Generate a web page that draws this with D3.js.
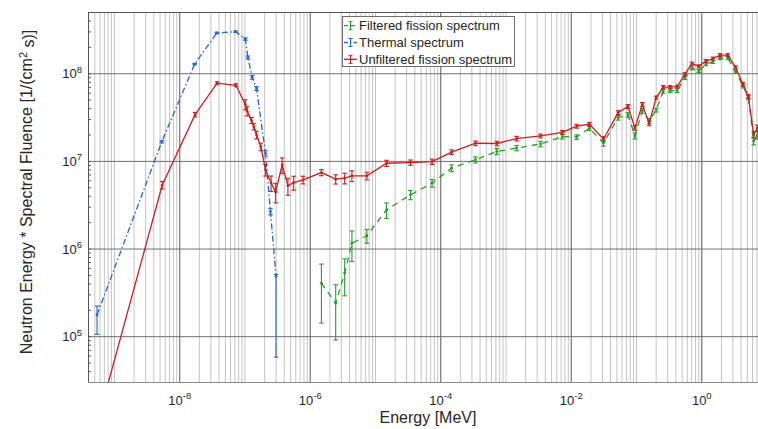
<!DOCTYPE html>
<html>
<head>
<meta charset="utf-8">
<script src="https://cdn.jsdelivr.net/npm/d3@7/dist/d3.min.js"></script>
<style>
  body { margin: 0; background: #fff; }
  text { font-family: "Liberation Sans", Arial, sans-serif; fill: #262626; }
</style>
</head>
<body>
<svg id="chart" width="758" height="429"></svg>
<script>
// ---- data (energy in MeV, E*fluence in 1/(cm^2 s)) ----

// Thermal spectrum
var thermalE     = [5.5e-10, 5.4e-9, 1.72e-8, 3.77e-8, 7.3e-8, 1.03e-7, 1.13e-7, 1.31e-7, 1.53e-7, 2.1e-7, 2.5e-7, 3.05e-7];
var thermalY     = [1.75e5, 1.65e7, 1.27e8, 2.88e8, 2.98e8, 2.46e8, 1.51e8, 9.0e7, 6.7e7, 1.22e7, 2.64e6, 4.8e5];
var thermalErrLo = [0.40, 0.03, 0.02, 0.02, 0.02, 0.03, 0.04, 0.05, 0.05, 0.07, 0.08, 0.88];
var thermalErrHi = [0.26, 0.03, 0.02, 0.02, 0.02, 0.03, 0.04, 0.05, 0.05, 0.07, 0.08, 0.05];

// Unfiltered fission spectrum
var unfilteredE = [5.5e-10, 5.5e-9, 1.75e-8, 3.8e-8, 7.4e-8, 1.03e-7, 1.1e-7, 1.28e-7, 1.39e-7, 1.53e-7,
                   1.78e-7, 2.1e-7, 2.56e-7, 3.0e-7, 3.78e-7, 4.63e-7, 5.67e-7, 7.9e-7, 1.51e-6, 2.5e-6,
                   3.43e-6, 4.43e-6, 7.5e-6, 1.5e-5, 3.5e-5, 7.5e-5, 1.49e-4, 3.47e-4, 7.36e-4, 1.48e-3,
                   3.44e-3, 7.43e-3, 1.23e-2, 1.93e-2, 3.18e-2, 5.33e-2, 7.51e-2, 9.62e-2, 0.125, 0.159,
                   0.204, 0.261, 0.335, 0.427, 0.562, 0.719, 0.916, 1.18, 1.51, 1.94,
                   2.55, 3.35, 4.36, 5.26, 6.37, 7.22];
var unfilteredY = [1.0e4, 5.3e6, 3.37e7, 7.7e7, 7.3e7, 4.4e7, 3.7e7, 2.9e7, 2.46e7, 1.98e7,
                   1.45e7, 7.9e6, 5.6e6, 4.43e6, 9.0e6, 5.2e6, 5.66e6, 6.07e6, 7.36e6, 6.19e6,
                   6.35e6, 6.75e6, 6.75e6, 9.4e6, 9.57e6, 9.8e6, 1.26e7, 1.59e7, 1.58e7, 1.80e7,
                   1.93e7, 2.12e7, 2.49e7, 2.62e7, 1.78e7, 3.56e7, 4.18e7, 2.38e7, 4.41e7, 2.68e7,
                   5.28e7, 6.95e7, 6.95e7, 7.05e7, 9.75e7, 1.29e8, 1.20e8, 1.38e8, 1.47e8, 1.61e8,
                   1.61e8, 1.17e8, 7.50e7, 5.43e7, 1.99e7, 2.37e7];
var unfilteredErr = [0.05, 0.10, 0.06, 0.04, 0.04, 0.13, 0.12, 0.08, 0.08, 0.10,
                     0.10, 0.15, 0.20, 0.25, 0.20, 0.22, 0.18, 0.10, 0.08, 0.12,
                     0.14, 0.14, 0.10, 0.08, 0.07, 0.07, 0.06, 0.06, 0.06, 0.06,
                     0.05, 0.05, 0.05, 0.05, 0.06, 0.05, 0.05, 0.06, 0.05, 0.06,
                     0.04, 0.04, 0.04, 0.04, 0.04, 0.04, 0.04, 0.04, 0.04, 0.04,
                     0.04, 0.04, 0.05, 0.05, 0.08, 0.08];

// Filtered fission spectrum
var filteredE = [1.51e-6, 2.5e-6, 3.43e-6, 4.43e-6, 7.5e-6, 1.5e-5, 3.5e-5, 7.5e-5, 1.49e-4, 3.47e-4,
                 7.36e-4, 1.48e-3, 3.44e-3, 7.43e-3, 1.23e-2, 1.93e-2, 3.18e-2, 5.33e-2, 7.51e-2, 9.62e-2,
                 0.125, 0.159, 0.204, 0.261, 0.335, 0.427, 0.562, 0.719, 0.916, 1.18,
                 1.51, 1.94, 2.55, 3.35, 4.36, 5.26, 6.37, 7.22];
var filteredY = [4.03e5, 2.38e5, 5.25e5, 1.15e6, 1.4e6, 2.76e6, 4.1e6, 5.57e6, 8.26e6, 1.03e7,
                 1.28e7, 1.40e7, 1.56e7, 1.89e7, 1.87e7, 2.36e7, 1.60e7, 3.11e7, 3.35e7, 1.93e7,
                 3.72e7, 2.86e7, 3.80e7, 6.20e7, 6.33e7, 6.33e7, 8.91e7, 1.14e8, 1.06e8, 1.27e8,
                 1.35e8, 1.49e8, 1.49e8, 1.04e8, 7.16e7, 5.33e7, 1.69e7, 1.97e7];
var filteredErr = [0.65, 0.62, 0.45, 0.38, 0.18, 0.20, 0.12, 0.10, 0.09, 0.08,
                   0.08, 0.07, 0.07, 0.06, 0.06, 0.06, 0.08, 0.06, 0.06, 0.08,
                   0.06, 0.07, 0.05, 0.05, 0.05, 0.05, 0.05, 0.04, 0.04, 0.04,
                   0.04, 0.04, 0.04, 0.04, 0.05, 0.05, 0.10, 0.10];

var xTicks = [1e-8, 1e-6, 1e-4, 1e-2, 1];
var yTicks = [1e5, 1e6, 1e7, 1e8];

var xLabel = "Energy [MeV]";
var legendNames = ["Filtered fission spectrum", "Thermal spectrum", "Unfiltered fission spectrum"];

// ---- layout ----
var box = { left: 88, right: 758, top: 12, bottom: 382 };

var x = d3.scaleLog().domain([4e-10, 7.4]).range([box.left, box.right]);
var y = d3.scaleLog().domain([3e4, 5e8]).range([box.bottom, box.top]);

var svg = d3.select("#chart");

// minor positions 1..9 x 10^n inside the domains
function minorValues(scale) {
    var dom = scale.domain(), out = [];
    for (var e = Math.floor(Math.log10(dom[0])); e <= Math.ceil(Math.log10(dom[1])); e++)
        for (var m = 1; m <= 9; m++) {
            var v = m * Math.pow(10, e);
            if (v >= dom[0] && v <= dom[1]) out.push(v);
        }
    return out;
}
var xMinor = minorValues(x);
var yMinor = minorValues(y);

// vertical minor grid
svg.append("g")
    .attr("transform", "translate(0," + box.bottom + ")")
    .call(d3.axisBottom(x).tickValues(xMinor).tickSize(-(box.bottom - box.top)).tickFormat(""))
    .call(function(g) {
        g.select(".domain").remove();
        g.selectAll("line").attr("stroke", "#c4c4c4");
    });

// major grid
svg.append("g")
    .attr("transform", "translate(0," + box.bottom + ")")
    .call(d3.axisBottom(x).tickValues(xTicks).tickSize(-(box.bottom - box.top)).tickFormat(""))
    .call(function(g) {
        g.select(".domain").remove();
        g.selectAll("line").attr("stroke", "#6e6e6e");
    });
svg.append("g")
    .attr("transform", "translate(" + box.left + ",0)")
    .call(d3.axisLeft(y).tickValues(yTicks).tickSize(-(box.right - box.left)).tickFormat(""))
    .call(function(g) {
        g.select(".domain").remove();
        g.selectAll("line").attr("stroke", "#6e6e6e");
    });

// minor y ticks, inward on the left
svg.append("g")
    .attr("transform", "translate(" + box.left + ",0)")
    .call(d3.axisLeft(y).tickValues(yMinor).tickSize(-3).tickFormat(""))
    .call(function(g) {
        g.select(".domain").remove();
        g.selectAll("line").attr("stroke", "#555");
    });

// ---- data ----
svg.append("defs").append("clipPath").attr("id", "plotclip")
    .append("rect")
    .attr("x", box.left).attr("y", box.top)
    .attr("width", box.right - box.left).attr("height", box.bottom - box.top);

var plot = svg.append("g").attr("clip-path", "url(#plotclip)");

function drawSeries(E, Y, lo, hi, color, dash) {
    var pts = E.map(function(e, i) { return { x: e, y: Y[i], lo: lo[i], hi: hi[i] }; });
    var line = d3.line().x(function(d) { return x(d.x); }).y(function(d) { return y(d.y); });

    plot.append("path")
        .datum(pts)
        .attr("fill", "none")
        .attr("stroke", color)
        .attr("stroke-width", 1.3)
        .attr("stroke-dasharray", dash)
        .attr("d", line);

    var eb = plot.append("g").attr("stroke", color).attr("stroke-width", 1.1);
    pts.forEach(function(d) {
        var px = x(d.x);
        var y0 = y(Math.max(d.y * (1 - d.lo), 1e3));
        var y1 = y(d.y * (1 + d.hi));
        eb.append("line").attr("x1", px).attr("x2", px).attr("y1", y0).attr("y2", y1);
        eb.append("line").attr("x1", px - 2.3).attr("x2", px + 2.3).attr("y1", y0).attr("y2", y0);
        eb.append("line").attr("x1", px - 2.3).attr("x2", px + 2.3).attr("y1", y1).attr("y2", y1);
    });

    plot.append("g").selectAll("circle")
        .data(pts).enter().append("circle")
        .attr("cx", function(d) { return x(d.x); })
        .attr("cy", function(d) { return y(d.y); })
        .attr("r", 1.4)
        .attr("fill", color);
}

var cGreen = "#23a023", cBlue = "#2563d6", cRed = "#cc1e1e";

drawSeries(thermalE, thermalY, thermalErrLo, thermalErrHi, cBlue, "6,2.5,1.5,2.5");
drawSeries(filteredE, filteredY, filteredErr, filteredErr, cGreen, "6,5");
drawSeries(unfilteredE, unfilteredY, unfilteredErr, unfilteredErr, cRed, null);

// ---- axes ----
function supLabels(g) {
    g.selectAll(".tick text").each(function(d) {
        var t = d3.select(this);
        var ex = Math.round(Math.log10(d));
        t.text("10");
        t.append("tspan").attr("dy", "-0.6em").attr("font-size", "9.5px").text(ex);
    });
}

svg.append("g")
    .attr("transform", "translate(0," + box.bottom + ")")
    .call(d3.axisBottom(x).tickValues(xTicks).tickSize(0).tickPadding(0))
    .call(function(g) {
        g.select(".domain").remove();
        g.selectAll(".tick text").attr("y", 23).attr("dy", null)
            .attr("font-size", "13px").attr("fill", "#262626");
    })
    .call(supLabels);

svg.append("g")
    .attr("transform", "translate(" + box.left + ",0)")
    .call(d3.axisLeft(y).tickValues(yTicks).tickSize(0).tickPadding(6))
    .call(function(g) {
        g.select(".domain").remove();
        g.selectAll(".tick text").attr("dy", "0.36em")
            .attr("font-size", "13px").attr("fill", "#262626");
    })
    .call(supLabels);

// box lines
svg.append("line").attr("x1", box.left + 0.5).attr("x2", box.left + 0.5).attr("y1", box.top).attr("y2", box.bottom)
    .attr("stroke", "#555");
svg.append("line").attr("x1", box.left).attr("x2", box.right).attr("y1", box.top + 0.5).attr("y2", box.top + 0.5)
    .attr("stroke", "#555");
svg.append("line").attr("x1", box.left).attr("x2", box.right).attr("y1", box.bottom + 0.5).attr("y2", box.bottom + 0.5)
    .attr("stroke", "#888");

// axis labels
svg.append("text")
    .attr("x", 428).attr("y", 423)
    .attr("text-anchor", "middle")
    .attr("font-size", "16px")
    .text(xLabel);

var yl = svg.append("text")
    .attr("transform", "translate(32," + 192 + ") rotate(-90)")
    .attr("text-anchor", "middle")
    .attr("font-size", "16px");
yl.append("tspan").text("Neutron Energy * Spectral Fluence [1/(cm");
yl.append("tspan").attr("dy", "-0.45em").attr("font-size", "11px").text("2");
yl.append("tspan").attr("dy", "0.45em").text(" s)]");

// ---- legend ----
var legendColors = [cGreen, cBlue, cRed];
var legendDash = ["4,3", "4,2,1.5,2", null];

var lg = svg.append("g");
lg.append("rect")
    .attr("x", 342.5).attr("y", 16.5)
    .attr("width", 172).attr("height", 50)
    .attr("fill", "#fff").attr("stroke", "#6e6e6e");

legendNames.forEach(function(name, i) {
    var cy = 25.7 + i * 16.8;
    lg.append("line")
        .attr("x1", 344).attr("x2", 357).attr("y1", cy).attr("y2", cy)
        .attr("stroke", legendColors[i]).attr("stroke-width", 1.3)
        .attr("stroke-dasharray", legendDash[i]);
    lg.append("line")
        .attr("x1", 350.5).attr("x2", 350.5).attr("y1", cy - 4).attr("y2", cy + 4)
        .attr("stroke", legendColors[i]);
    lg.append("line").attr("x1", 348.5).attr("x2", 352.5).attr("y1", cy - 4).attr("y2", cy - 4)
        .attr("stroke", legendColors[i]);
    lg.append("line").attr("x1", 348.5).attr("x2", 352.5).attr("y1", cy + 4).attr("y2", cy + 4)
        .attr("stroke", legendColors[i]);
    lg.append("text")
        .attr("x", 359).attr("y", cy)
        .attr("dy", "0.36em")
        .attr("font-size", "13px")
        .text(name);
});
</script>
</body>
</html>
